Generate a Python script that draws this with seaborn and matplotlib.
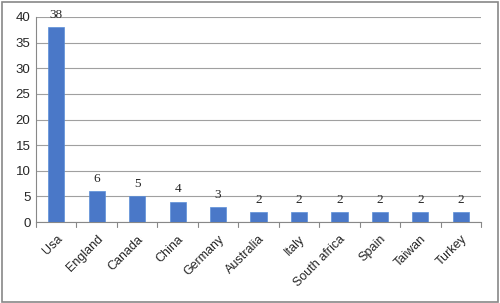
import matplotlib
matplotlib.use("Agg")
import matplotlib.pyplot as plt
import seaborn as sns
import pandas as pd

countries = ["Usa", "England", "Canada", "China", "Germany", "Australia",
             "Italy", "South africa", "Spain", "Taiwan", "Turkey"]
counts = [38, 6, 5, 4, 3, 2, 2, 2, 2, 2, 2]
y_ticks = [0, 5, 10, 15, 20, 25, 30, 35, 40]

sns.set_style("white")
plt.rcParams['font.family'] = ['Liberation Sans', 'DejaVu Sans']

df = pd.DataFrame({"country": countries, "count": counts})

fig = plt.figure(figsize=(5.0, 3.03), dpi=100)
ax = fig.add_axes([0.072, 0.267, 0.89, 0.677])
sns.barplot(data=df, x="country", y="count", color="#4a78c8", width=0.4,
            saturation=1, ax=ax, edgecolor="#5b8fd8", linewidth=0.5, zorder=3)

ax.set_ylim(0, 40)
ax.set_yticks(y_ticks)
ax.set_xlim(-0.5, len(countries) - 0.5)
ax.yaxis.grid(True, color="#a0a0a0", linewidth=0.8, zorder=0)
ax.set_axisbelow(True)
for s in ["top", "right"]:
    ax.spines[s].set_visible(False)
ax.spines["left"].set_color("#888888")
ax.spines["bottom"].set_color("#888888")
ax.set_xlabel("")
ax.set_ylabel("")
ax.tick_params(axis="y", labelsize=9.5, length=0, pad=4)
ax.set_xticks(range(len(countries)))
ax.set_xticklabels(countries, rotation=45, ha="right", rotation_mode="anchor", fontsize=9)
ax.tick_params(axis="x", length=0, pad=8)
# category separator ticks
for i in range(len(countries) + 1):
    ax.plot([i - 0.5, i - 0.5], [0, -1.0], color="#888888", lw=0.8, clip_on=False)

for i, v in enumerate(counts):
    ax.text(i, v + 1.2, str(v), ha="center", va="bottom", fontsize=9.5,
            family=["Liberation Serif", "DejaVu Serif"])

border = plt.Rectangle((0.003, 0.004), 0.992, 0.99, transform=fig.transFigure,
                       fill=False, edgecolor="#888888", linewidth=1.2)
fig.patches.append(border)

fig.savefig("out.png", dpi=100)
